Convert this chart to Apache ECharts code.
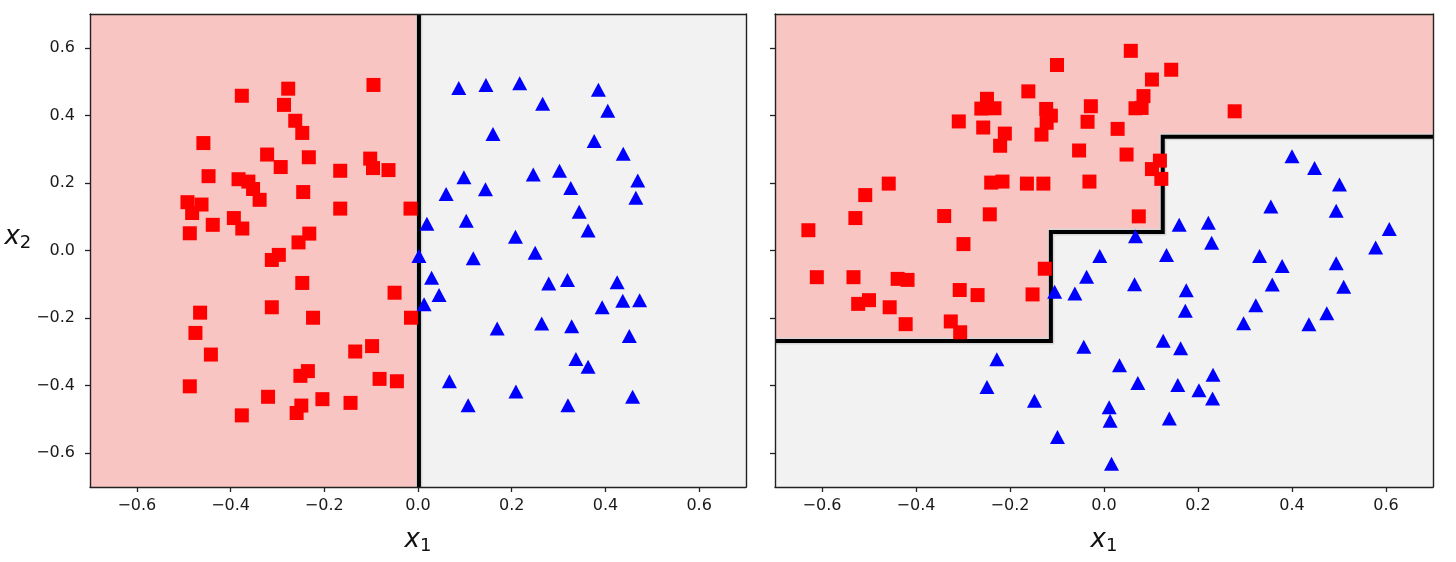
<!DOCTYPE html>
<html>
<head>
<meta charset="utf-8">
<script src="https://cdn.jsdelivr.net/npm/echarts@6/dist/echarts.min.js"></script>
<style>
html, body { margin: 0; padding: 0; background: #fff; }
#chart { width: 1456px; height: 562px; }
</style>
</head>
<body>
<div id="chart"></div>
<script>
// tick values shared by both panels
var tickValues = [-0.6, -0.4, -0.2, 0, 0.2, 0.4, 0.6];

// left panel: class 0 (red squares) and class 1 (blue triangles)
var leftSquares = [
    [-0.376,0.458],[-0.277,0.479],[-0.286,0.431],[-0.095,0.490],[-0.262,0.384],[-0.247,0.348],
    [-0.458,0.318],[-0.322,0.284],[-0.233,0.276],[-0.293,0.247],[-0.166,0.236],[-0.102,0.272],
    [-0.096,0.244],[-0.063,0.238],[-0.447,0.220],[-0.383,0.211],[-0.362,0.204],[-0.352,0.182],
    [-0.338,0.150],[-0.245,0.173],[-0.492,0.143],[-0.462,0.136],[-0.482,0.111],[-0.166,0.124],
    [-0.016,0.124],[-0.393,0.096],[-0.438,0.076],[-0.375,0.065],[-0.487,0.051],[-0.232,0.050],
    [-0.255,0.024],[-0.297,-0.013],[-0.312,-0.028],[-0.247,-0.096],[-0.050,-0.125],[-0.465,-0.184],
    [-0.312,-0.168],[-0.224,-0.199],[-0.015,-0.199],[-0.475,-0.244],[-0.442,-0.308],[-0.134,-0.299],
    [-0.098,-0.283],[-0.235,-0.357],[-0.251,-0.371],[-0.082,-0.380],[-0.045,-0.387],[-0.487,-0.402],
    [-0.320,-0.433],[-0.249,-0.459],[-0.259,-0.481],[-0.204,-0.440],[-0.144,-0.451],[-0.376,-0.488]
];
var leftTriangles = [
    [0.087,0.481],[0.145,0.490],[0.217,0.495],[0.266,0.434],[0.385,0.476],[0.405,0.414],
    [0.160,0.345],[0.376,0.324],[0.438,0.286],[0.098,0.217],[0.246,0.225],[0.302,0.236],
    [0.326,0.185],[0.469,0.207],[0.465,0.156],[0.060,0.167],[0.144,0.181],[0.344,0.115],
    [0.019,0.079],[0.103,0.088],[0.363,0.059],[0.208,0.041],[0.250,-0.007],[0.118,-0.023],
    [0.002,-0.016],[0.029,-0.081],[0.045,-0.132],[0.013,-0.159],[0.279,-0.098],[0.319,-0.087],
    [0.425,-0.094],[0.437,-0.149],[0.473,-0.147],[0.393,-0.168],[0.169,-0.231],[0.264,-0.216],
    [0.328,-0.224],[0.451,-0.253],[0.337,-0.321],[0.363,-0.344],[0.067,-0.387],[0.209,-0.417],
    [0.107,-0.458],[0.320,-0.458],[0.458,-0.433]
];
var leftSplitX = 0.002;

// right panel
var rightSquares = [
    [-0.100,0.549],[-0.161,0.471],[-0.249,0.449],[-0.261,0.420],[-0.233,0.421],[-0.123,0.419],
    [-0.113,0.399],[-0.122,0.378],[-0.028,0.427],[-0.035,0.381],[-0.309,0.382],[-0.257,0.364],
    [-0.211,0.346],[-0.221,0.310],[-0.133,0.343],[-0.053,0.296],[-0.458,0.198],[-0.508,0.164],
    [-0.240,0.201],[-0.216,0.204],[-0.164,0.198],[-0.129,0.198],[-0.031,0.204],[-0.529,0.096],
    [-0.340,0.102],[-0.243,0.107],[-0.629,0.060],[-0.299,0.019],[0.057,0.591],[0.143,0.535],
    [0.102,0.506],[0.084,0.457],[0.067,0.421],[0.080,0.422],[0.278,0.412],[0.029,0.360],
    [0.048,0.284],[0.119,0.266],[0.102,0.241],[0.122,0.212],[0.074,0.101],[-0.611,-0.079],
    [-0.533,-0.079],[-0.439,-0.084],[-0.418,-0.087],[-0.307,-0.117],[-0.269,-0.132],[-0.152,-0.130],
    [-0.126,-0.054],[-0.500,-0.147],[-0.523,-0.158],[-0.456,-0.168],[-0.422,-0.218],[-0.326,-0.210],
    [-0.306,-0.242]
];
var rightTriangles = [
    [-0.009,-0.016],[-0.037,-0.078],[-0.105,-0.122],[-0.062,-0.127],[-0.043,-0.285],[-0.228,-0.322],
    [-0.249,-0.404],[-0.148,-0.445],[-0.099,-0.552],[0.400,0.279],[0.448,0.244],[0.501,0.195],
    [0.355,0.130],[0.494,0.118],[0.160,0.076],[0.222,0.082],[0.067,0.042],[0.229,0.023],
    [0.607,0.064],[0.578,0.009],[0.133,-0.013],[0.331,-0.016],[0.379,-0.046],[0.494,-0.038],
    [0.065,-0.100],[0.175,-0.118],[0.358,-0.101],[0.510,-0.107],[0.173,-0.178],[0.323,-0.162],
    [0.474,-0.186],[0.297,-0.215],[0.436,-0.218],[0.126,-0.267],[0.163,-0.289],[0.033,-0.340],
    [0.072,-0.392],[0.157,-0.398],[0.232,-0.368],[0.202,-0.414],[0.231,-0.438],[0.011,-0.464],
    [0.013,-0.504],[0.139,-0.497],[0.016,-0.631]
];
// step boundary: breakpoints on x, level of each step on y
var stepX = [-0.7, -0.113, 0.125, 0.7];
var stepY = [-0.268, 0.055, 0.337];

var lo = -0.7, hi = 0.7;
var pink = '#f9c5c2', grey = '#f2f2f2';

var fmt = function(v) {
    var s = Math.abs(v).toFixed(1);
    return v < -1e-9 ? '\u2212' + s : s;
};

var nameRich = {
    v: { fontFamily: 'DejaVu Sans', fontStyle: 'italic', fontSize: 26, lineHeight: 30, verticalAlign: 'middle', color: '#111' },
    s: { fontFamily: 'DejaVu Sans', fontSize: 18, lineHeight: 18, verticalAlign: 'bottom', color: '#111' }
};
var lineCol = '#222';

function xAxisMain(gi) {
    return {
        type: 'value', gridIndex: gi, min: lo, max: hi, position: 'bottom', z: 10,
        axisLine: { show: true, onZero: false, lineStyle: { color: lineCol, width: 1.4 } },
        axisTick: { show: true, inside: false, length: 5, customValues: tickValues, lineStyle: { color: lineCol, width: 1.3 } },
        axisLabel: { customValues: tickValues, formatter: fmt, fontSize: 16, color: '#1a1a1a', margin: 11, fontFamily: 'DejaVu Sans' },
        splitLine: { show: false },
        name: '{v|x}{s|1}', nameLocation: 'middle', nameGap: 38,
        nameTextStyle: { rich: nameRich }
    };
}
function xAxisTop(gi) {
    return {
        type: 'value', gridIndex: gi, min: lo, max: hi, position: 'top', z: 10,
        axisLine: { show: true, onZero: false, lineStyle: { color: lineCol, width: 1.4 } },
        axisTick: { show: false }, axisLabel: { show: false }, splitLine: { show: false }
    };
}
function yAxisMain(gi, labels) {
    var ax = {
        type: 'value', gridIndex: gi, min: lo, max: hi, position: 'left', z: 10,
        axisLine: { show: true, onZero: false, lineStyle: { color: lineCol, width: 1.4 } },
        axisTick: { show: true, inside: false, length: 5, customValues: tickValues, lineStyle: { color: lineCol, width: 1.3 } },
        axisLabel: { show: labels, customValues: tickValues, formatter: fmt, fontSize: 16, color: '#1a1a1a', margin: 15, fontFamily: 'DejaVu Sans' },
        splitLine: { show: false }
    };
    if (labels) {
        ax.name = '{v|x}{s|2}';
        ax.nameLocation = 'middle';
        ax.nameRotate = 0;
        ax.nameGap = 58;
        ax.nameTextStyle = { rich: nameRich, padding: [0, 0, 26, 0] };
    }
    return ax;
}
function yAxisRight(gi) {
    return {
        type: 'value', gridIndex: gi, min: lo, max: hi, position: 'right', z: 10,
        axisLine: { show: true, onZero: false, lineStyle: { color: lineCol, width: 1.4 } },
        axisTick: { show: false }, axisLabel: { show: false }, splitLine: { show: false }
    };
}

// shaded regions built from the boundary arrays; the steps rise left to right,
// so each rectangle may start at the left edge and they overlap without seams
var leftAreas = [[{ xAxis: lo, yAxis: lo }, { xAxis: leftSplitX, yAxis: hi }]];
var rightAreas = [];
var stepLine = [];
for (var i = 0; i < stepY.length; i++) {
    rightAreas.push([{ xAxis: lo, yAxis: stepY[i] }, { xAxis: stepX[i + 1], yAxis: hi }]);
    stepLine.push([stepX[i], stepY[i]]);
    stepLine.push([stepX[i + 1], stepY[i]]);
}
var leftLine = [[leftSplitX, lo], [leftSplitX, hi]];

function regionSeries(xi, yi, areas) {
    return {
        type: 'line', xAxisIndex: xi, yAxisIndex: yi, data: [], silent: true, z: 1,
        markArea: { silent: true, itemStyle: { color: pink }, data: areas }
    };
}
function boundarySeries(xi, yi, pts, w, col, z) {
    return {
        type: 'line', xAxisIndex: xi, yAxisIndex: yi, data: pts, symbol: 'none', silent: true, z: z,
        lineStyle: { color: col, width: w, join: 'miter' }
    };
}
function pointSeries(xi, yi, pts, shape) {
    var sq = shape === 'rect';
    return {
        type: 'scatter', xAxisIndex: xi, yAxisIndex: yi, data: pts, z: 5,
        symbol: shape, symbolSize: sq ? 14 : [15, 14],
        itemStyle: { color: sq ? '#ff0000' : '#0000ff', opacity: 1 }
    };
}

var chart = echarts.init(document.getElementById('chart'));
chart.setOption({
    animation: false,
    backgroundColor: '#ffffff',
    grid: [
        { left: 90, top: 14, width: 656, height: 473, show: true, backgroundColor: grey, borderWidth: 0 },
        { left: 775, top: 14, width: 658, height: 473, show: true, backgroundColor: grey, borderWidth: 0 }
    ],
    xAxis: [xAxisMain(0), xAxisTop(0), xAxisMain(1), xAxisTop(1)],
    yAxis: [yAxisMain(0, true), yAxisRight(0), yAxisMain(1, false), yAxisRight(1)],
    series: [
        regionSeries(0, 0, leftAreas),
        boundarySeries(0, 0, leftLine, 7, '#d6d6d6', 2),
        boundarySeries(0, 0, leftLine, 4, '#000000', 3),
        pointSeries(0, 0, leftSquares, 'rect'),
        pointSeries(0, 0, leftTriangles, 'triangle'),
        regionSeries(2, 2, rightAreas),
        boundarySeries(2, 2, stepLine, 7, '#d6d6d6', 2),
        boundarySeries(2, 2, stepLine, 4, '#000000', 3),
        pointSeries(2, 2, rightSquares, 'rect'),
        pointSeries(2, 2, rightTriangles, 'triangle')
    ]
});
</script>
</body>
</html>
